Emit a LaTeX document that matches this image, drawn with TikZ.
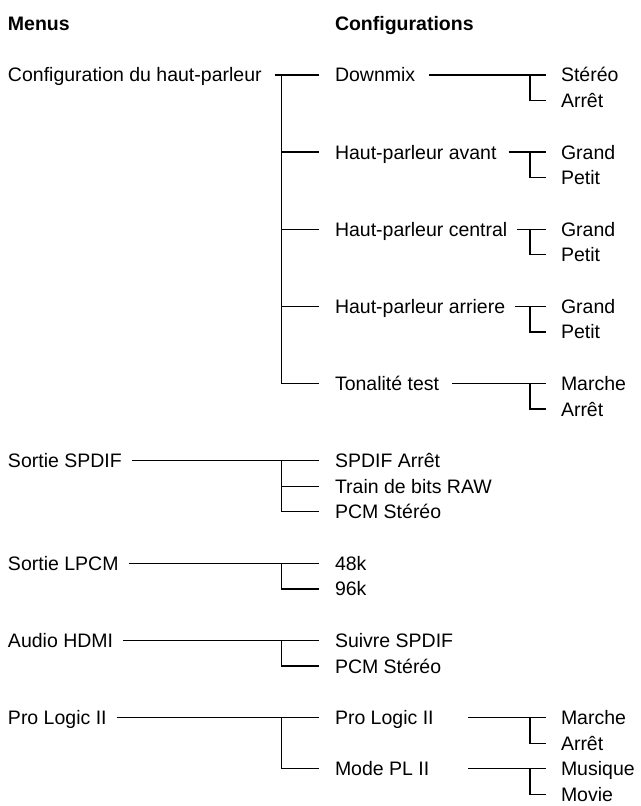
\documentclass[tikz,border=0pt]{standalone}
\usepackage{fontspec}
\setmainfont{Liberation Sans}
\begin{document}
\begin{tikzpicture}[x=1pt,y=-25.7pt,
  lbl/.style={anchor=west,inner sep=0pt,outer sep=0pt,text height=14pt,text depth=0pt,font=\fontsize{19.5}{23}\selectfont},
  hdr/.style={lbl,font=\fontsize{19.5}{23}\selectfont\bfseries},
  conn/.style={line width=1.2pt,line cap=butt},
  to2/.style={conn,shorten >=16pt},
  to3/.style={conn,shorten >=15pt}]
\useasboundingbox (0,-2.918) rectangle (640,28.444);
% headers
\node[hdr] (hm) at (8,-2) {Menus};
\node[hdr] (hc) at (335,-2) {Configurations};
% group 1
\node[lbl] (cfg) at (8,0) {Configuration du haut-parleur};
\node[lbl] (dm) at (335,0) {Downmix};
\node[lbl] (dm1) at (561,0) {Stéréo};
\node[lbl] (dm2) at (561,1) {Arrêt};
\node[lbl] (av) at (335,3) {Haut-parleur avant};
\node[lbl] (av1) at (561,3) {Grand};
\node[lbl] (av2) at (561,4) {Petit};
\node[lbl] (ce) at (335,6) {Haut-parleur central};
\node[lbl] (ce1) at (561,6) {Grand};
\node[lbl] (ce2) at (561,7) {Petit};
\node[lbl] (ar) at (335,9) {Haut-parleur arriere};
\node[lbl] (ar1) at (561,9) {Grand};
\node[lbl] (ar2) at (561,10) {Petit};
\node[lbl] (to) at (335,12) {Tonalité test};
\node[lbl] (to1) at (561,12) {Marche};
\node[lbl] (to2) at (561,13) {Arrêt};
% group 2
\node[lbl] (sp) at (8,15) {Sortie SPDIF};
\node[lbl] (sp1) at (335,15) {SPDIF Arrêt};
\node[lbl] (sp2) at (335,16) {Train de bits RAW};
\node[lbl] (sp3) at (335,17) {PCM Stéréo};
% group 3
\node[lbl] (lp) at (8,19) {Sortie LPCM};
\node[lbl] (lp1) at (335,19) {48k};
\node[lbl] (lp2) at (335,20) {96k};
% group 4
\node[lbl] (hd) at (8,22) {Audio HDMI};
\node[lbl] (hd1) at (335,22) {Suivre SPDIF};
\node[lbl] (hd2) at (335,23) {PCM Stéréo};
% group 5
\node[lbl] (pl) at (8,25) {Pro Logic II};
\node[lbl] (pl1) at (335,25) {Pro Logic II};
\node[lbl] (pl11) at (561,25) {Marche};
\node[lbl] (pl12) at (561,26) {Arrêt};
\node[lbl] (pl2) at (335,27) {Mode PL II};
\node[lbl] (pl21) at (561,27) {Musique};
\node[lbl] (pl22) at (561,28) {Movie};

% trunk coordinates
\coordinate (k1) at (281.7,0);
\coordinate (k2) at (281.7,15);
\coordinate (k3) at (281.7,19);
\coordinate (k4) at (281.7,22);
\coordinate (k5) at (281.7,25);
\coordinate (j1) at (530,0);
\coordinate (j2) at (530,3);
\coordinate (j3) at (530,6);
\coordinate (j4) at (530,9);
\coordinate (j5) at (530,12);
\coordinate (j6) at (530,25);
\coordinate (j7) at (530,27);
\coordinate (s6) at (468,25);
\coordinate (s7) at (468,27);

% first level connectors
\draw[to2,shorten <=13pt] (cfg.east) -- (dm.west);
\draw[to2] (k1) |- (to.west);
\foreach \n in {av,ce,ar} \draw[to2] (k1 |- \n.west) -- (\n.west);

\draw[to2,shorten <=10pt] (sp.east) -- (sp1.west);
\draw[to2] (k2) |- (sp3.west);
\draw[to2] (k2 |- sp2.west) -- (sp2.west);

\draw[to2,shorten <=10pt] (lp.east) -- (lp1.west);
\draw[to2] (k3) |- (lp2.west);

\draw[to2,shorten <=10pt] (hd.east) -- (hd1.west);
\draw[to2] (k4) |- (hd2.west);

\draw[to2,shorten <=10pt] (pl.east) -- (pl1.west);
\draw[to2] (k5) |- (pl2.west);

% second level connectors
\draw[to3,shorten <=14pt] (dm.east) -- (dm1.west);
\draw[to3] (j1) |- (dm2.west);
\draw[to3,shorten <=12pt] (av.east) -- (av1.west);
\draw[to3] (j2) |- (av2.west);
\draw[to3,shorten <=10pt] (ce.east) -- (ce1.west);
\draw[to3] (j3) |- (ce2.west);
\draw[to3,shorten <=10pt] (ar.east) -- (ar1.west);
\draw[to3] (j4) |- (ar2.west);
\draw[to3,shorten <=13pt] (to.east) -- (to1.west);
\draw[to3] (j5) |- (to2.west);
\draw[to3] (s6) -- (pl11.west);
\draw[to3] (j6) |- (pl12.west);
\draw[to3] (s7) -- (pl21.west);
\draw[to3] (j7) |- (pl22.west);
\end{tikzpicture}
\end{document}
